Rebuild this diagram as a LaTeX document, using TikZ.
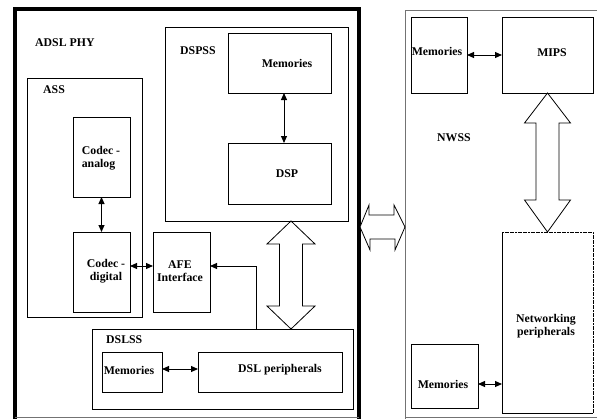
\documentclass[tikz,border=0pt]{standalone}
\usepackage{fontspec}
\setmainfont{Liberation Serif}
\usetikzlibrary{arrows.meta,fit}
\begin{document}
\begin{tikzpicture}[x=1pt,y=-1pt,
  box/.style={draw, line width=1pt, inner sep=0pt, outer sep=0pt},
  txt/.style={font=\fontsize{11.8}{13}\selectfont\bfseries, inner sep=0pt, align=center},
  link/.style={line width=1pt, {Triangle[length=7pt,width=6pt]}-{Triangle[length=7pt,width=6pt]}},
  feed/.style={line width=1pt, -{Triangle[length=7pt,width=6pt]}},
  hollow/.style={draw, line width=0.8pt, fill=white, line join=miter},
  frame/.style={draw=black!55, line width=1pt},
]
\useasboundingbox (0,0) rectangle (597,418);

% ---------- ADSL PHY ----------
\node[box, line width=4pt, fit={(15,9) (359,440)}] (adsl) {};
\draw[frame] (15,417) -- (359,417);
\node[txt, anchor=west] (adslt) at (35,43) {ADSL PHY};

% DSP subsystem
\node[box, fit={(165,27) (348,221)}] (dspss) {};
\node[txt, anchor=west] (dspsst) at (180,51) {DSPSS};
\node[box, fit={(228,33) (331,93)}] (dmem) {};
\node[txt] (dmemt) at (287,63) {Memories};
\node[box, fit={(228,143) (331,204)}] (dsp) {};
\node[txt] (dspt) at (287,174) {DSP};
\draw[link] ([xshift=4.5pt]dmem.south) -- ([xshift=4.5pt]dsp.north);

% analog subsystem
\node[box, fit={(27,78) (142,317)}] (ass) {};
\node[txt, anchor=west] (asst) at (43,90) {ASS};
\node[box, fit={(73,117) (130,197)}] (canalog) {};
\node[txt, align=left] (canalogt) at (101,158.5) {Codec -\\analog};
\node[box, fit={(73,232) (130,312)}] (cdigital) {};
\node[txt] (cdigitalt) at (106,271.5) {Codec -\\digital};
\draw[link] (canalog.south) -- (cdigital.north);

\node[box, fit={(153,232) (210,312)}] (afe) {};
\node[txt] (afet) at (180,271.5) {AFE\\Interface};
\draw[link] ([yshift=6pt]cdigital.east) -- ([yshift=6pt]afe.west);

% DSL subsystem
\node[box, fit={(92,329) (353,409)}] (dslss) {};
\node[txt, anchor=west] (dslsst) at (106,340) {DSLSS};
\node[box, fit={(102,352) (162,392)}] (lmem) {};
\node[txt] (lmemt) at (129,370) {Memories};
\node[box, fit={(198,352) (342,392)}] (dslp) {};
\node[txt] (dslpt) at (280,370) {DSL peripherals};
\draw[link] ([yshift=3pt]lmem.east) -- ([yshift=3pt]dslp.west);
\draw[feed] ([xshift=33.5pt]dslss.north) |- ([yshift=6pt]afe.east);

% wide bus between DSPSS and DSLSS
\coordinate (vx) at (291,0);
\coordinate (va) at (dspss.south -| vx);
\coordinate (vb) at (dslss.north -| vx);
\draw[hollow] (va) -- ++(24,23) -- ++(-12.5,0) -- ++(0,62) -- ++(12.5,0)
  -- (vb) -- ++(-24,-23) -- ++(12.5,0) -- ++(0,-62) -- ++(-12.5,0) -- cycle;

% ---------- NWSS ----------
\node[box, frame, fit={(405,10) (610,440)}] (nwss) {};
\draw[frame] (405,417) -- (597,417);
\node[txt, anchor=west] (nwsst) at (437,138) {NWSS};
\node[box, fit={(411,17) (467,93)}] (nmem) {};
\node[txt] (nmemt) at (437,51) {Memories};
\node[box, fit={(502,17) (593,93)}] (mips) {};
\node[txt] (mipst) at (552,53) {MIPS};
\draw[link] (nmem.east) -- (mips.west);

\node[inner sep=0pt, outer sep=0pt, fit={(502,232) (593,413)}] (netp) {};
\draw[line width=1pt] (netp.north west) -- (netp.south west) -- (netp.south east);
\draw[line width=1pt, dash pattern=on 2pt off 0.6pt] (netp.north west) -- (netp.north east) -- (netp.south east);
\node[txt] (netpt) at (546,326) {Networking\\peripherals};
\node[box, fit={(411,344) (478,408)}] (bmem) {};
\node[txt] (bmemt) at (443,384) {Memories};
\draw[link] ([yshift=-8pt]bmem.east) -- ([yshift=-8pt]bmem.east -| netp.west);

% bus between MIPS and networking peripherals
\draw[hollow] (mips.south) -- ++(23,30) -- ++(-11.5,0) -- ++(0,77) -- ++(11.5,0)
  -- (netp.north) -- ++(-23,-32) -- ++(11.5,0) -- ++(0,-77) -- ++(-11.5,0) -- cycle;

% bus between ADSL PHY and NWSS
\coordinate (hy) at (0,227);
\coordinate (ha) at (adsl.east |- hy);
\coordinate (hb) at (nwss.west |- hy);
\draw[hollow] ([xshift=1pt]ha) -- ++(9,-22) -- ++(0,10) -- ++(25,0) -- ++(0,-10)
  -- (hb) -- ++(-10,23) -- ++(0,-11) -- ++(-25,0) -- ++(0,11) -- cycle;
\end{tikzpicture}
\end{document}
